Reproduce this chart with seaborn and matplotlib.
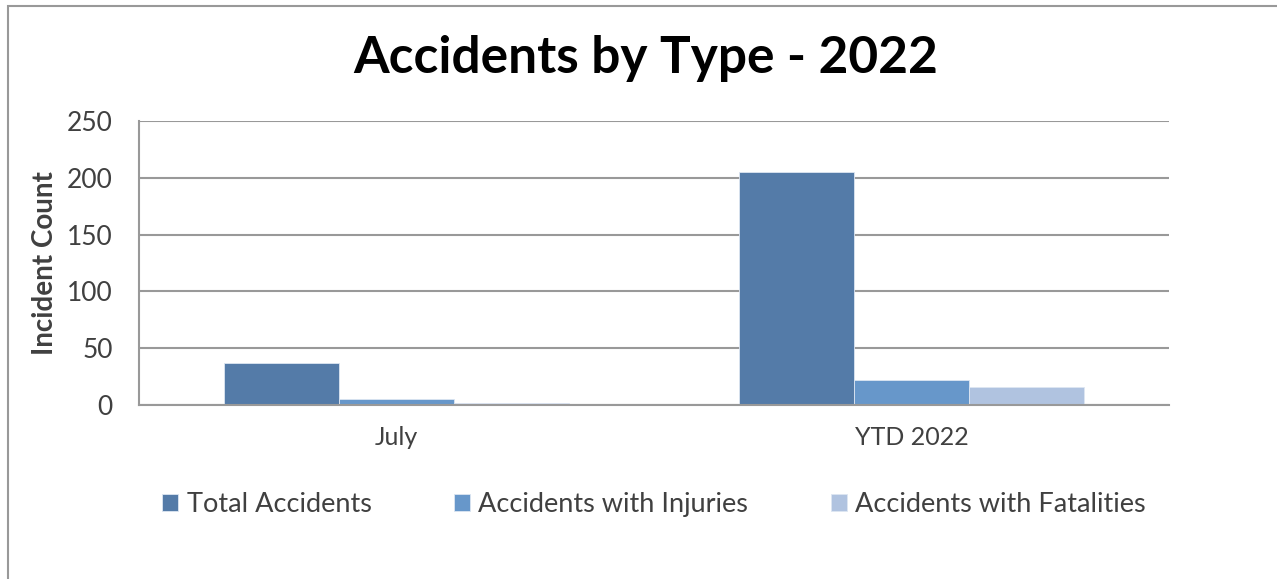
import matplotlib
matplotlib.use("Agg")
import matplotlib.pyplot as plt
import seaborn as sns
import pandas as pd
from matplotlib.patches import Rectangle

periods = ["July", "YTD 2022"]
series = ["Total Accidents", "Accidents with Injuries", "Accidents with Fatalities"]
total = [37, 205]
injuries = [5, 22]
fatalities = [2, 16]
colors = ["#547BA8", "#6797CA", "#B0C3E0"]

rows = []
for s, vals in zip(series, [total, injuries, fatalities]):
    for p, v in zip(periods, vals):
        rows.append({"Period": p, "Series": s, "Count": v})
df = pd.DataFrame(rows)

sns.set_theme(style="white")
plt.rcParams["font.family"] = ["Lato", "DejaVu Sans"]

fig = plt.figure(figsize=(12.77, 5.79), dpi=100)
ax = fig.add_axes([139 / 1277, 1 - 405 / 579, 1030 / 1277, 284 / 579])

sns.barplot(data=df, x="Period", y="Count", hue="Series", palette=colors,
            width=0.67, ax=ax, saturation=1, legend=True,
            edgecolor="#dde6f2", linewidth=0.6)

ax.set_ylim(0, 250)
ax.set_yticks(range(0, 251, 50))
ax.set_xlim(-0.5, 1.5)
ax.yaxis.grid(True, color="#999999", lw=1.5)
ax.set_axisbelow(True)
for side in ["top", "right"]:
    ax.spines[side].set_visible(False)
ax.spines["left"].set_color("#999999")
ax.spines["left"].set_linewidth(1.5)
ax.spines["bottom"].set_color("#999999")
ax.spines["bottom"].set_linewidth(1.5)
ax.tick_params(axis="y", labelsize=19, colors="#404040", length=0, pad=19)
ax.tick_params(axis="x", labelsize=18, colors="#404040", length=0, pad=15)
ax.set_xlabel("")
ax.set_ylabel("Incident Count", fontsize=20, fontweight="bold", color="#404040", labelpad=6)

leg = ax.legend(loc="upper center", bbox_to_anchor=(0.5, -0.22), ncol=3,
                frameon=False, fontsize=19.5, handlelength=0.6, handleheight=0.6,
                columnspacing=3.05, handletextpad=0.3)
for t in leg.get_texts():
    t.set_color("#404040")

fig.suptitle("Accidents by Type - 2022", x=646 / 1277, y=1 - 58 / 579, va="center",
             fontsize=37, fontweight="bold", color="black")

fig.patches.append(Rectangle((8 / 1277, -0.1), 1.2, 1 - 6 / 579 + 0.1,
                             transform=fig.transFigure, fill=False,
                             edgecolor="#999999", lw=1.5))

fig.savefig("out.png", dpi=100)
